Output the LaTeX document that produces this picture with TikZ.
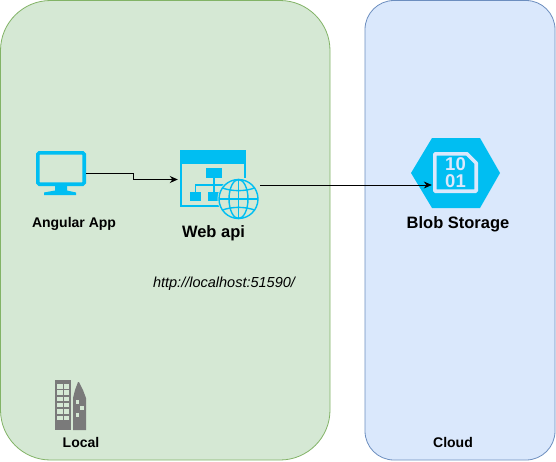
\documentclass[tikz,border=0pt]{standalone}
\usepackage{fontspec}
\setmainfont{Liberation Sans}
\usetikzlibrary{arrows.meta}
\definecolor{gfill}{HTML}{D5E8D4}
\definecolor{gline}{HTML}{82B366}
\definecolor{bfill}{HTML}{DAE8FC}
\definecolor{bline}{HTML}{6C8EBF}
\definecolor{az}{HTML}{00BEF2}
\definecolor{bld}{HTML}{7A7A7A}
\tikzset{
  panel/.style={draw,line width=0.8pt},
  lbl/.style={inner sep=0pt,font=\bfseries\fontsize{14}{16}\selectfont,text=black},
  biglbl/.style={inner sep=0pt,font=\bfseries\fontsize{16.5}{18}\selectfont,text=black},
  bits/.style={inner sep=0pt,anchor=base,text=bfill,font=\bfseries\fontsize{18.5}{18}\selectfont},
  conn/.style={draw=black,line width=0.8pt,-{Stealth[length=8pt,width=7pt]}},
  ic/.style={draw=az,line width=2pt},
  hub/.style={inner sep=0pt,minimum size=0pt}
}
\begin{document}
\begin{tikzpicture}[x=1pt,y=-1pt]
\useasboundingbox (0,0) rectangle (556,461);
\fill[white] (0,0) rectangle (556,461);
% panels
\draw[panel,draw=gline,fill=gfill,rounded corners=50pt] (0.5,0.5) rectangle (330,460);
\draw[panel,draw=bline,fill=bfill,rounded corners=29pt] (365,0.5) rectangle (555,460);
% monitor
\draw[draw=az,line width=3.6pt,rounded corners=1.5pt] (37.8,152.8) rectangle (84.2,184.2);
\fill[az] (55,186) -- (67,186) -- (67,190.5) -- (76,192.5) -- (76,195) -- (44,195) -- (44,192.5) -- (55,190.5) -- cycle;
\coordinate (appout) at (86,173);
% web api window
\fill[az] (180,150) rectangle (246,163.5);
\draw[ic] (181,151) -- (181,206) -- (222,206);
\draw[ic] (245,151) -- (245,178);
\fill[az] (205.7,168) rectangle (222,178);
\fill[az] (189.5,192) rectangle (201.3,201);
\fill[az] (208,192) rectangle (220,201);
\draw[draw=az,line width=1.2pt] (214,178) -- (214,185) -- (195.4,185) -- (195.4,192);
\draw[draw=az,line width=1.2pt] (214,185) -- (214,192);
\draw[draw=az,line width=1.2pt] (214,185) -- (226,185);
% globe
\fill[gfill] (238.5,199) circle (21pt);
\begin{scope}[draw=az,line width=1.4pt]
\draw (238.5,199) circle (19.5pt);
\draw (238.5,199) ellipse (9.5pt and 19.5pt);
\draw (238.5,179.5) -- (238.5,218.5);
\draw (219,199) -- (258,199);
\draw (222.5,188) .. controls (232,191.5) and (245,191.5) .. (254.5,188);
\draw (222.5,210) .. controls (232,206.5) and (245,206.5) .. (254.5,210);
\end{scope}
\node[hub] (apiin) at (178,179.5) {};
\node[hub] (apiout) at (260,185) {};
% blob
\fill[az] (411,173) -- (432,138) -- (480,138) -- (500,173) -- (480,208) -- (432,208) -- cycle;
\draw[draw=bfill,line width=3.6pt,line join=round] (434.8,153.8) -- (467,153.8) -- (476.2,163) -- (476.2,191.2) -- (434.8,191.2) -- cycle;
\node[bits] (bitsa) at (455.5,170) {10};
\node[bits] (bitsb) at (455.5,187.5) {01};
\node[hub] (blobin) at (432,185) {};
% building
\fill[bld] (55,380) rectangle (71,430);
\fill[bld] (73,430) -- (73,398) -- (75,390) -- (78,382) -- (79,382) -- (83,390) -- (86,398) -- (86,430) -- cycle;
\foreach \r in {0,...,5}{
  \fill[gfill] (57,{384+\r*6.3}) rectangle (62.5,{388.5+\r*6.3});
  \fill[gfill] (63.7,{384+\r*6.3}) rectangle (69,{388.5+\r*6.3});
}
\fill[gfill] (75.5,400) rectangle (79,404);
\fill[gfill] (80,406) rectangle (84,410);
\fill[gfill] (75.5,413) rectangle (79,417);
% labels
\node[lbl] (applbl) at (74,223.5) {Angular App};
\node[biglbl] (apilbl) at (213.5,233.5) {Web api};
\node[biglbl] (bloblbl) at (458,224) {Blob Storage};
\node[inner sep=0pt,font=\itshape\fontsize{14.5}{16}\selectfont] (url) at (224,283.5) {http://localhost:51590/};
\node[lbl] (loclbl) at (81,442) {Local};
\node[lbl] (cloudlbl) at (453,442) {Cloud};
% connectors
\draw[conn] (appout) -- (133,173) -- (133,179.5) -- (apiin);
\draw[conn] (apiout) -- (blobin);
\end{tikzpicture}
\end{document}
